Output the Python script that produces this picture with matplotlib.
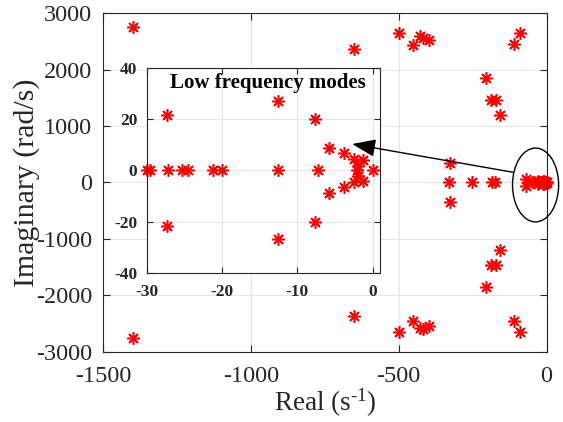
import matplotlib
matplotlib.use('Agg')
import matplotlib.pyplot as plt
from matplotlib.patches import Ellipse

plt.rcParams['font.family'] = ['Liberation Serif', 'DejaVu Serif']
plt.rcParams['mathtext.fontset'] = 'custom'
plt.rcParams['mathtext.rm'] = 'Liberation Serif'
plt.rcParams['mathtext.default'] = 'regular'
plt.rcParams['axes.unicode_minus'] = False

# high frequency modes (real part s^-1, imaginary part rad/s)
hf_real = [-1400, -1400, -650, -650, -500, -500, -450, -450,
           -427, -427, -418, -418, -399, -399,
           -88, -88, -111, -111, -203, -203, -189, -189, -172, -172,
           -158, -158, -327, -327,
           -331, -252, -184, -174, -68, -68, -50, -42]
hf_imag = [2750, -2750, 2370, -2370, 2645, -2650, 2440, -2450,
           2593, -2580, 2570, -2598, 2535, -2552,
           2655, -2655, 2450, -2460, 1850, -1855, 1470, -1465, 1470, -1465,
           1200, -1205, 340, -340,
           0, 0, 0, 0, 70, -70, 0, 0]

# low frequency modes (shown in the inset)
lf_real = [-30, -29.6, -27.2, -25.4, -24.5, -21.2, -20, -12.6, -7.2, 0,
           -12.6, -12.6, -27.4, -27.4, -7.6, -7.6, -5.8, -5.8,
           -3.85, -3.85, -2.5, -2.5, -1.3, -1.3, -1.9, -1.9, -2.0]
lf_imag = [0, 0, 0, 0, 0, 0, 0, 0, 0, 0,
           26.9, -26.8, 21.7, -21.6, 20, -19.9, 8.8, -8.7,
           6.8, -6.6, 4.4, -4.6, 4.0, -4.2, 1.8, -2.0, 0]

main_xticks = [-1500, -1000, -500, 0]
main_yticks = [-3000, -2000, -1000, 0, 1000, 2000, 3000]
inset_xticks = [-30, -20, -10, 0]
inset_yticks = [-40, -20, 0, 20, 40]

star = (8, 2, 0)
dark = '0.15'

fig = plt.figure(figsize=(5.63, 4.22), dpi=100)
ax = fig.add_axes([0.183, 0.1666, 0.7877, 0.8019])
ax.plot(hf_real + lf_real, hf_imag + lf_imag, linestyle='none', marker=star,
        markersize=9, markeredgewidth=1.15, color='red', clip_on=False)
ax.set_xlim(-1500, 0)
ax.set_ylim(-3000, 3000)
ax.set_xticks(main_xticks)
ax.set_yticks(main_yticks)
ax.grid(True, color='0.9', linewidth=0.8)
ax.set_axisbelow(True)
ax.tick_params(direction='in', top=True, right=True, length=5, width=0.8,
               colors=dark, labelsize=17.5)
ax.tick_params(axis='x', pad=10)
ax.tick_params(axis='y', pad=8)
for s in ax.spines.values():
    s.set_color(dark)
    s.set_linewidth(0.8)
ax.set_xlabel('Real (s$^{\\text{-1}}$)', fontsize=19.5, color=dark, labelpad=0)
ax.set_ylabel('Imaginary (rad/s)', fontsize=21.5, color=dark, labelpad=-3)

# circle the low frequency cluster
ax.add_patch(Ellipse((-37, -44), 156, 1310, fill=False, edgecolor='k',
                     linewidth=1.0, clip_on=False, zorder=5))

# inset
ax2 = fig.add_axes([0.2611, 0.3524, 0.4139, 0.4872])
ax2.plot(lf_real, lf_imag, linestyle='none', marker=star,
         markersize=9, markeredgewidth=1.15, color='red', clip_on=False)
ax2.set_xlim(-30, 1)
ax2.set_ylim(-40, 40)
ax2.set_xticks(inset_xticks)
ax2.set_yticks(inset_yticks)
ax2.grid(True, color='0.9', linewidth=0.8)
ax2.set_axisbelow(True)
ax2.tick_params(direction='in', top=True, right=True, length=4, width=0.8,
                colors=dark, labelsize=12.5)
ax2.tick_params(axis='x', pad=8)
ax2.tick_params(axis='y', pad=7)
for lab in ax2.get_xticklabels() + ax2.get_yticklabels():
    lab.set_fontweight('bold')
for s in ax2.spines.values():
    s.set_color(dark)
    s.set_linewidth(0.8)
ax2.text(0.517, 0.924, 'Low frequency modes', transform=ax2.transAxes,
         ha='center', va='center', fontsize=15, fontweight='bold')

ax2.annotate('', xy=(-2.7, 10.3), xycoords='data',
             xytext=(-112, 180), textcoords=ax.transData,
             arrowprops=dict(arrowstyle='-|>,head_length=0.9,head_width=0.34',
                             color='k', lw=1.0, mutation_scale=16,
                             shrinkA=0, shrinkB=0),
             annotation_clip=False)

fig.savefig('out.png', dpi=100)
